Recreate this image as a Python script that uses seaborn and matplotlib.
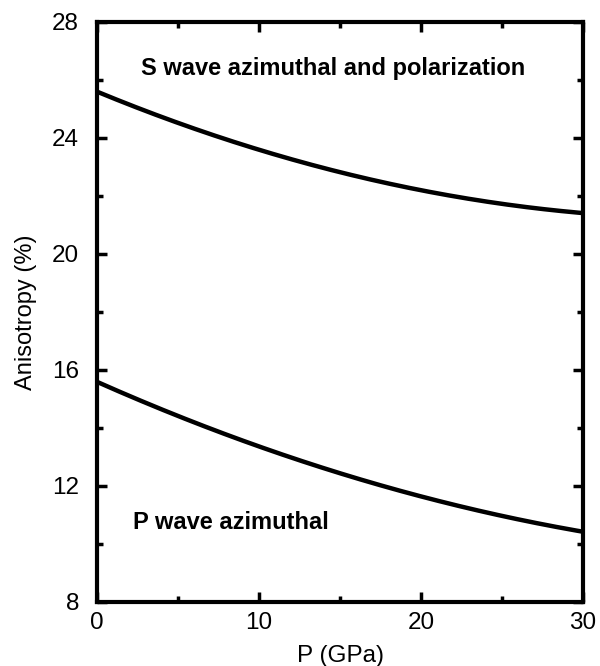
import numpy as np
import pandas as pd
import matplotlib.pyplot as plt
import seaborn as sns
from matplotlib.ticker import MultipleLocator

# pressure (GPa) and anisotropy (%)
pressure = [0, 5, 10, 15, 20, 25, 30]
s_wave = [25.54, 24.62, 23.59, 22.80, 22.15, 21.75, 21.42]
p_wave = [15.54, 14.56, 13.30, 12.32, 11.69, 11.06, 10.37]

df = pd.DataFrame({
    'P': pressure * 2,
    'aniso': s_wave + p_wave,
    'wave': ['S'] * len(pressure) + ['P'] * len(pressure),
})

sns.set_style('ticks', {'axes.edgecolor': 'black', 'text.color': 'black',
                        'axes.labelcolor': 'black', 'xtick.color': 'black',
                        'ytick.color': 'black'})
plt.rcParams['font.family'] = ['Liberation Sans', 'DejaVu Sans']

fig = plt.figure(figsize=(6, 6.66), dpi=100)
ax = fig.add_axes([0.1617, 0.0961, 0.81, 0.8709])

# smooth the read points with a quadratic fit per curve for drawing
rows = []
for name, g in df.groupby('wave'):
    coef = np.polyfit(g['P'], g['aniso'], 2)
    xs = np.linspace(0, 30, 200)
    rows.append(pd.DataFrame({'P': xs, 'aniso': np.polyval(coef, xs), 'wave': name}))
smooth = pd.concat(rows)

sns.lineplot(data=smooth, x='P', y='aniso', units='wave', estimator=None,
             color='black', lw=3.2, ax=ax, legend=False)

ax.set_xlim(0, 30)
ax.set_ylim(8, 28)
ax.xaxis.set_major_locator(MultipleLocator(10))
ax.xaxis.set_minor_locator(MultipleLocator(5))
ax.yaxis.set_major_locator(MultipleLocator(4))
ax.yaxis.set_minor_locator(MultipleLocator(2))
ax.tick_params(which='both', direction='in', top=True, right=True, width=2.5,
               labelsize=17.5)
ax.tick_params(which='major', length=7)
ax.tick_params(which='minor', length=4)
ax.tick_params(axis='y', pad=13)
ax.tick_params(axis='x', pad=7)
for s in ax.spines.values():
    s.set_linewidth(3)

ax.set_xlabel('P (GPa)', fontsize=17.5, labelpad=8)
ax.set_ylabel('Anisotropy (%)', fontsize=17, labelpad=11)

ax.text(14.6, 26.4, 'S wave azimuthal and polarization', ha='center', va='center',
        fontsize=17, fontweight='bold')
ax.text(2.2, 10.75, 'P wave azimuthal', ha='left', va='center',
        fontsize=17, fontweight='bold')

fig.savefig('out.png', dpi=100)
